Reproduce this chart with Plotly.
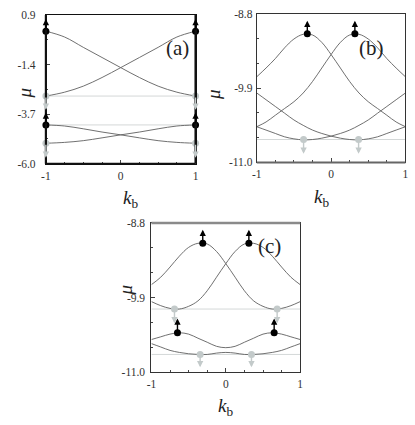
import plotly.graph_objects as go

# ==========================================================
# DATA
# ==========================================================
# panel (a)
KA = [-1, -0.75, -0.5, -0.25, 0, 0.25, 0.5, 0.75, 1]
A_UP1 = [0.15, -0.12, -0.6, -1.07, -1.54, -2.0, -2.4, -2.68, -2.86]
A_UP2 = A_UP1[::-1]
A_LO1 = [-4.2, -4.25, -4.38, -4.53, -4.66, -4.8, -4.93, -5.01, -5.05]
A_LO2 = A_LO1[::-1]
A_GUIDES = [-2.86, -4.2]
A_BLACK = dict(x=[-1, 1, -1, 1], y=[0.15, 0.15, -4.2, -4.2], tip=[0.72, 0.72, -3.62, -3.62])
A_GRAY = dict(x=[-1, 1, -1, 1], y=[-2.86, -2.86, -5.05, -5.05], tip=[-3.5, -3.5, -5.72, -5.72])

# panel (b)
KB = [-1, -0.875, -0.75, -0.625, -0.5, -0.375, -0.25, -0.125, 0,
      0.125, 0.25, 0.375, 0.5, 0.625, 0.75, 0.875, 1]
B_UP1 = [-9.73, -9.6, -9.46, -9.3, -9.17, -9.1, -9.11, -9.22, -9.4,
         -9.6, -9.8, -9.97, -10.1, -10.2, -10.3, -10.4, -10.47]
B_UP2 = B_UP1[::-1]
B_LO1 = [-9.97, -10.07, -10.17, -10.27, -10.37, -10.45, -10.52, -10.57, -10.61,
         -10.64, -10.66, -10.665, -10.65, -10.62, -10.57, -10.52, -10.47]
B_LO2 = B_LO1[::-1]
B_GUIDES = [-10.66]
B_BLACK = dict(x=[-0.32, 0.32], y=[-9.09, -9.09], tip=[-8.9, -8.9])
B_GRAY = dict(x=[-0.37, 0.37], y=[-10.66, -10.66], tip=[-10.87, -10.87])

# panel (c)
KC = KB
C_UP1 = [-9.71, -9.6, -9.45, -9.29, -9.16, -9.1, -9.11, -9.22, -9.4,
         -9.6, -9.8, -9.95, -10.03, -10.07, -10.06, -10.02, -9.96]
C_UP2 = C_UP1[::-1]
C_LO1 = [-10.52, -10.48, -10.44, -10.42, -10.44, -10.5, -10.56, -10.62, -10.64,
         -10.62, -10.56, -10.5, -10.44, -10.42, -10.44, -10.48, -10.52]
C_LO2 = [-10.58, -10.63, -10.68, -10.71, -10.73, -10.74, -10.74, -10.72, -10.71,
         -10.72, -10.74, -10.74, -10.73, -10.71, -10.68, -10.63, -10.58]
C_GUIDES = [-10.07, -10.74]
C_BLACK = dict(x=[-0.31, 0.31, -0.65, 0.65], y=[-9.1, -9.1, -10.42, -10.42],
               tip=[-8.9, -8.9, -10.21, -10.21])
C_GRAY = dict(x=[-0.69, 0.69, -0.345, 0.345], y=[-10.07, -10.07, -10.74, -10.74],
              tip=[-10.28, -10.28, -10.93, -10.93])

Y_TICKS = {
    "a": [0.9, -1.4, -3.7, -6.0],
    "b": [-8.8, -9.9, -11.0],
    "c": [-8.8, -9.9, -11.0],
}
X_TICKS = [-1, 0, 1]

# ==========================================================
# STYLE
# ==========================================================
W, H = 415, 425
SERIF = "Liberation Serif"
CURVE = "#606060"
GUIDE = "#d4d8d8"
GRAYDOT = "#c3caca"

# pixel boxes of the three panels (left, right, top, bottom)
BOX = {
    "a": (41.7, 194.3, 9.3, 162.3),
    "b": (256.7, 408.3, 8.3, 161.0),
    "c": (149.3, 301.0, 223.3, 376.7),
}


def dom(box):
    l, r, t, b = box
    return [l / W, r / W], [1 - b / H, 1 - t / H]


fig = go.Figure()

panels = [
    ("a", "x", "y", KA, [A_UP1, A_UP2, A_LO1, A_LO2], A_GUIDES, A_BLACK, A_GRAY),
    ("b", "x2", "y2", KB, [B_UP1, B_UP2, B_LO1, B_LO2], B_GUIDES, B_BLACK, B_GRAY),
    ("c", "x3", "y3", KC, [C_UP1, C_UP2, C_LO1, C_LO2], C_GUIDES, C_BLACK, C_GRAY),
]

for tag, xr, yr, ks, curves, guides, black, gray in panels:
    # light horizontal guides
    for g in guides:
        fig.add_trace(go.Scatter(x=[-1, 1], y=[g, g], mode="lines",
                                 line=dict(color=GUIDE, width=1),
                                 xaxis=xr, yaxis=yr, showlegend=False, hoverinfo="skip"))
    # band curves
    for c in curves:
        fig.add_trace(go.Scatter(x=ks, y=c, mode="lines",
                                 line=dict(color=CURVE, width=0.9, shape="spline", smoothing=1.0),
                                 xaxis=xr, yaxis=yr, showlegend=False, hoverinfo="skip"))
    # arrows
    for pts, col in [(black, "black"), (gray, GRAYDOT)]:
        for x0, y0, yt in zip(pts["x"], pts["y"], pts["tip"]):
            fig.add_annotation(x=x0, y=yt, ax=x0, ay=y0, xref=xr, yref=yr,
                               axref=xr, ayref=yr, text="", showarrow=True,
                               arrowhead=2, arrowsize=0.9, arrowwidth=1.4,
                               arrowcolor=col, standoff=0, startstandoff=0)
    # dots
    fig.add_trace(go.Scatter(x=gray["x"], y=gray["y"], mode="markers",
                             marker=dict(color=GRAYDOT, size=7),
                             xaxis=xr, yaxis=yr, showlegend=False, hoverinfo="skip",
                             cliponaxis=False))
    fig.add_trace(go.Scatter(x=black["x"], y=black["y"], mode="markers",
                             marker=dict(color="black", size=7),
                             xaxis=xr, yaxis=yr, showlegend=False, hoverinfo="skip",
                             cliponaxis=False))

# ==========================================================
# AXES
# ==========================================================
tickfont = dict(family=SERIF, size=11.5, color="#333")
standoff = {"a": 7, "b": 1, "c": 3}
for tag, xr, yr in [("a", "x", "y"), ("b", "x2", "y2"), ("c", "x3", "y3")]:
    xd, yd = dom(BOX[tag])
    xname = "xaxis" + xr[1:]
    yname = "yaxis" + yr[1:]
    yt = Y_TICKS[tag]
    lc = "#111" if tag == "a" else "#333"
    fig.layout[xname] = dict(
        domain=xd, anchor=yr, range=[-1, 1], tickvals=X_TICKS,
        ticktext=[str(v) for v in X_TICKS], ticks="inside", ticklen=4,
        showline=True, linecolor=lc, linewidth=1, mirror=True,
        showgrid=False, zeroline=False, tickfont=tickfont, ticklabelstandoff=1,
        minor=dict(dtick=0.25, tick0=-1, ticks="inside", ticklen=2, showgrid=False),
    )
    fig.layout[yname] = dict(
        domain=yd, anchor=xr, range=[min(yt), max(yt)], tickvals=yt,
        ticktext=["%.1f" % v for v in yt], ticks="inside", ticklen=4,
        showline=True, linecolor=lc, linewidth=1, mirror=True,
        showgrid=False, zeroline=False, tickfont=tickfont,
        minor=dict(dtick=(max(yt) - min(yt)) / 6, tick0=min(yt), ticks="inside",
                   ticklen=2, showgrid=False),
        ticklabelstandoff=standoff[tag],
    )

# heavier frame edges seen in the reference
edges = [
    ("x", "y", (0, 0, 0, 1), "#111", 2.2),
    ("x", "y", (1, 0, 1, 1), "#111", 2.2),
    ("x", "y", (0, 0, 1, 0), "#111", 2),
    ("x2", "y2", (0, 0, 1, 0), "#666", 2),
    ("x3", "y3", (0, 1, 1, 1), "#8a8a8a", 2.5),
]
for xr, yr, (x0, y0, x1, y1), col, w in edges:
    fig.add_shape(type="line", xref=xr + " domain", yref=yr + " domain",
                  x0=x0, y0=y0, x1=x1, y1=y1, line=dict(color=col, width=w))

# axis titles and panel labels as text
for tag, label, lx, ly in [("a", "(a)", 176, 29), ("b", "(b)", 388, 29), ("c", "(c)", 283, 247)]:
    l, r, t, b = BOX[tag]
    fig.add_annotation(x=lx / W, y=1 - ly / H, xref="paper", yref="paper", text=label,
                       showarrow=False, font=dict(family=SERIF, size=21, color="#222"))
    fig.add_annotation(x=(l + r) / 2 / W, y=1 - (b + 22) / H, xref="paper", yref="paper",
                       yanchor="top", text="<i>k</i><sub>b</sub>", showarrow=False,
                       font=dict(family=SERIF, size=19, color="#222"))

for mx, my in [(7, 82), (212, 83), (110, 300)]:
    fig.add_annotation(x=mx / W, y=1 - my / H, xref="paper", yref="paper",
                       text="<i>μ</i>", textangle=-90, showarrow=False,
                       font=dict(family=SERIF, size=19, color="#222"))

fig.update_layout(
    width=W, height=H,
    margin=dict(l=0, r=0, t=0, b=0),
    paper_bgcolor="white", plot_bgcolor="white",
    showlegend=False,
)

fig.write_html("out.html", config={"displayModeBar": False},
               post_script="document.body.style.margin='0';")
